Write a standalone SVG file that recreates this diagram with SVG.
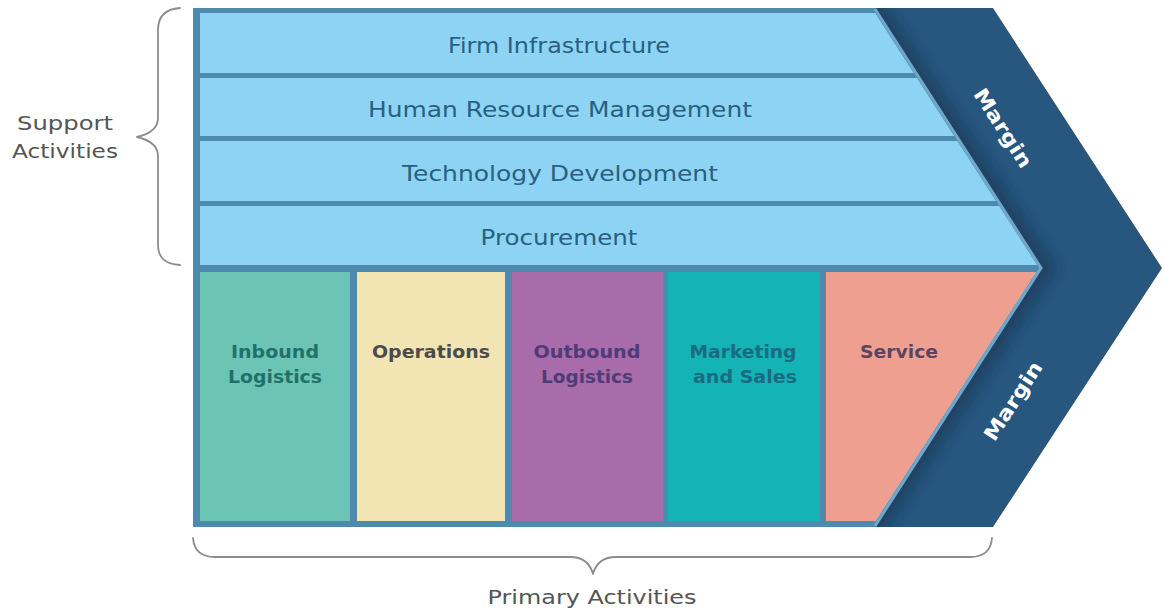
<svg xmlns="http://www.w3.org/2000/svg" width="1163" height="611" viewBox="0 0 1163 611">
  <style>
    .stripe { fill: #8dd4f4; }
    .stripe-label { font-family: "DejaVu Sans", "Noto Sans", sans-serif; font-size: 21px; fill: #2a5f80; text-anchor: middle; }
    .prim-label { font-family: "DejaVu Sans", "Noto Sans", sans-serif; font-size: 18px; font-weight: bold; text-anchor: middle; }
    .side-label { font-family: "DejaVu Sans", "Noto Sans", sans-serif; font-size: 20px; fill: #555555; text-anchor: middle; }
    .margin-label { font-family: "DejaVu Sans", "Noto Sans", sans-serif; font-size: 20px; font-weight: bold; fill: #ffffff; text-anchor: middle; }
    .brace { fill: none; stroke: #8c8c8c; stroke-width: 1.8; stroke-linecap: round; stroke-linejoin: round; }
  </style>
  <defs>
    <clipPath id="chevClip">
      <polygon points="875,8 993,8 1162,268 993,527 875,527 1042,268"/>
    </clipPath>
    <filter id="blur" x="-20%" y="-20%" width="140%" height="140%">
      <feGaussianBlur stdDeviation="7"/>
    </filter>
  </defs>
  <rect width="1163" height="611" fill="#ffffff"/>

  <!-- Margin chevron -->
  <g id="margin">
    <polygon points="875,8 993,8 1162,268 993,527 875,527 1042,268" fill="#27567e"/>
    <g clip-path="url(#chevClip)">
      <polyline points="870,0 1045,268 870,536" fill="none" stroke="#0f2d4a" stroke-width="18" stroke-opacity="0.55" filter="url(#blur)"/>
    </g>
    <g transform="translate(1003,128) rotate(57.2)">
      <text class="margin-label" x="0" y="7" textLength="90" lengthAdjust="spacingAndGlyphs">Margin</text>
    </g>
    <g transform="translate(1013,401) rotate(-57.2)">
      <text class="margin-label" x="0" y="7" textLength="90" lengthAdjust="spacingAndGlyphs">Margin</text>
    </g>
  </g>

  <!-- Frame -->
  <g id="frame">
    <polygon points="193,8 875,8 1042,268 875,527 193,527" fill="#4d8aae"/>
  </g>

  <!-- Support activities -->
  <g id="firm-infrastructure">
    <polygon class="stripe" points="200,13 875.2,13 913.7,73 200,73"/>
    <text class="stripe-label" x="559" y="53" textLength="222" lengthAdjust="spacingAndGlyphs">Firm Infrastructure</text>
  </g>
  <g id="hrm">
    <polygon class="stripe" points="200,78 917,78 954.2,136 200,136"/>
    <text class="stripe-label" x="560" y="117" textLength="384" lengthAdjust="spacingAndGlyphs">Human Resource Management</text>
  </g>
  <g id="technology-development">
    <polygon class="stripe" points="200,141 957.4,141 996,201 200,201"/>
    <text class="stripe-label" x="560" y="181" textLength="316" lengthAdjust="spacingAndGlyphs">Technology Development</text>
  </g>
  <g id="procurement">
    <polygon class="stripe" points="200,206 999.2,206 1037.1,265 200,265"/>
    <text class="stripe-label" x="559" y="245" textLength="157" lengthAdjust="spacingAndGlyphs">Procurement</text>
  </g>

  <!-- Primary activities -->
  <g id="inbound-logistics">
    <rect x="200" y="272" width="150" height="249" fill="#6cc5b4"/>
    <text class="prim-label" fill="#22706a" x="275" y="358" textLength="88" lengthAdjust="spacingAndGlyphs">Inbound</text>
    <text class="prim-label" fill="#22706a" x="275" y="383" textLength="94" lengthAdjust="spacingAndGlyphs">Logistics</text>
  </g>
  <g id="operations">
    <rect x="357" y="272" width="148" height="249" fill="#f3e5b3"/>
    <text class="prim-label" fill="#4b4b4b" x="431" y="358" textLength="118" lengthAdjust="spacingAndGlyphs">Operations</text>
  </g>
  <g id="outbound-logistics">
    <rect x="512" y="272" width="151" height="249" fill="#a96caa"/>
    <text class="prim-label" fill="#4f3b78" x="587" y="358" textLength="107" lengthAdjust="spacingAndGlyphs">Outbound</text>
    <text class="prim-label" fill="#4f3b78" x="587" y="383" textLength="92" lengthAdjust="spacingAndGlyphs">Logistics</text>
  </g>
  <g id="marketing-sales">
    <rect x="668" y="272" width="152" height="249" fill="#13b3b6"/>
    <text class="prim-label" fill="#1a6b80" x="743" y="358" textLength="107" lengthAdjust="spacingAndGlyphs">Marketing</text>
    <text class="prim-label" fill="#1a6b80" x="745" y="383" textLength="104" lengthAdjust="spacingAndGlyphs">and Sales</text>
  </g>
  <g id="service">
    <polygon points="826,272 1036.4,272 875.9,521 826,521" fill="#ef9f8f"/>
    <text class="prim-label" fill="#5a4560" x="899" y="358" textLength="78" lengthAdjust="spacingAndGlyphs">Service</text>
  </g>

  <!-- Light edge along chevron -->
  <g id="edge">
    <polyline points="875,9 1041,268 875,526" fill="none" stroke="#6ea8ca" stroke-width="3"/>
  </g>

  <!-- Braces and group labels -->
  <g id="support-activities">
    <path class="brace" d="M180,8 C165,9 158,16 158,30 L158,118 C158,128 150,134 137,137 C150,140 158,146 158,156 L158,244 C158,258 165,264 180,265"/>
    <text class="side-label" x="65" y="130" textLength="96" lengthAdjust="spacingAndGlyphs">Support</text>
    <text class="side-label" x="65" y="158" textLength="106" lengthAdjust="spacingAndGlyphs">Activities</text>
  </g>
  <g id="primary-activities">
    <path class="brace" d="M193,538 C194,551 201,557 215,557 L570,557 C582,557 590,563 593,574 C596,563 604,557 616,557 L970,557 C984,557 991,551 992,538"/>
    <text class="side-label" x="592" y="604" textLength="209" lengthAdjust="spacingAndGlyphs">Primary Activities</text>
  </g>
</svg>
